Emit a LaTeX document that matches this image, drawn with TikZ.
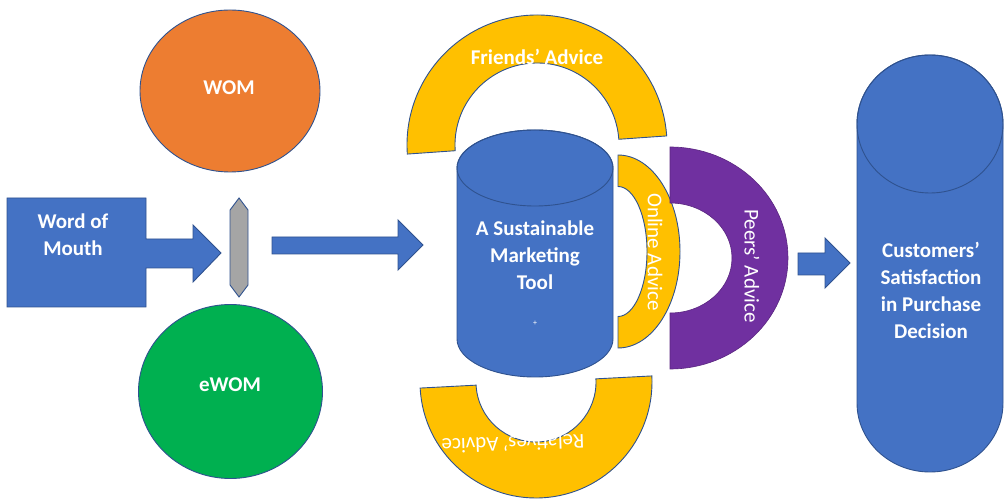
\documentclass[tikz,border=0pt]{standalone}
\usepackage{fontspec}
\setmainfont{Carlito}
\definecolor{cblue}{HTML}{4472C4}
\definecolor{cbord}{HTML}{2F528F}
\definecolor{corange}{HTML}{ED7D31}
\definecolor{cgreen}{HTML}{00B050}
\definecolor{cyellow}{HTML}{FFC000}
\definecolor{cpurple}{HTML}{7030A0}
\definecolor{cgray}{HTML}{A5A5A5}
\begin{document}
\begin{tikzpicture}[x=1pt,y=1pt,
  shp/.style={draw=cbord, line width=0.9pt},
  lbl/.style={text=white, font=\fontsize{21}{27}\selectfont\bfseries, align=center, inner sep=0pt},
  lblr/.style={text=white, font=\fontsize{21}{25}\selectfont, align=center, inner sep=0pt}]
\useasboundingbox (0,0) rectangle (1004,498);

% WOM and eWOM
\filldraw[shp, fill=corange] (230,407) ellipse [x radius=90, y radius=81];
\node[lbl] (wom) at (229,410) {WOM};
\filldraw[shp, fill=cgreen] (230.5,106.5) ellipse [x radius=92, y radius=87];
\node[lbl] (ewom) at (230,113) {eWOM};

% Word of Mouth callout arrow
\filldraw[shp, fill=cblue] (7,300) -- (146,300) -- (146,259) -- (193,259) -- (193,273)
  -- (221,245) -- (193,216) -- (193,230) -- (146,230) -- (146,191) -- (7,191) -- cycle;
\node[lbl] (wm) at (73,263) {Word of\\Mouth};

% gray connector bar
\filldraw[shp, fill=cgray] (239,300) -- (248,288) -- (248,213) -- (239,201) -- (230,213) -- (230,288) -- cycle;

% middle arrow
\filldraw[shp, fill=cblue] (272,261) -- (398,261) -- (398,278) -- (423,253) -- (398,228) -- (398,244) -- (272,244) -- cycle;

% Friends' Advice arc
\filldraw[shp, fill=cyellow] (537,353) ++(4:130) arc[start angle=4, end angle=184, radius=130]
  -- ++(4:48) arc[start angle=184, end angle=4, radius=82] -- cycle;
\node[lbl] (fa) at (537,441) {Friends’ Advice};

% Relatives' Advice arc
\filldraw[shp, fill=cyellow] (536,116) ++(183:116) arc[start angle=183, end angle=363, radius=116]
  -- ++(183:56) arc[start angle=363, end angle=183, radius=60] -- cycle;
\node[lblr, rotate=182] (ra) at (513,54) {Relatives’ Advice};

% central cylinder
\filldraw[shp, fill=cblue] (457,330) -- (457,159) arc[start angle=180, end angle=360, x radius=78, y radius=38]
  -- (613,330) arc[start angle=0, end angle=180, x radius=78, y radius=38] -- cycle;
\draw[shp] (535,330) ellipse [x radius=78, y radius=38];
\node[lbl] (tool) at (535,243) {A Sustainable\\Marketing\\Tool};
\node[text=white, font=\fontsize{8}{8}\selectfont, inner sep=0pt] (plus) at (535,175) {+};

% Online Advice
\filldraw[shp, fill=cyellow] (618,246.5) ++(0,96.5) arc[start angle=90, end angle=-90, x radius=62, y radius=96.5]
  -- ++(0,31.5) arc[start angle=-90, end angle=90, x radius=29, y radius=65] -- cycle;
\node[lblr, rotate=-90] (oa) at (655,246) {Online Advice};

% Peers' Advice
\filldraw[draw=cpurple!80!black, line width=0.6pt, fill=cpurple] (670,240) ++(0,111) arc[start angle=90, end angle=-90, x radius=118, y radius=111]
  -- ++(0,56) arc[start angle=-90, end angle=90, x radius=62, y radius=55] -- cycle;
\node[lblr, rotate=-90] (pa) at (752,232) {Peers’ Advice};

% right arrow
\filldraw[shp, fill=cblue] (798,245) -- (825,245) -- (825,260) -- (850,235) -- (825,210) -- (825,223) -- (798,223) -- cycle;

% customers cylinder
\filldraw[shp, fill=cblue] (857,374) -- (857,95) arc[start angle=180, end angle=360, x radius=73, y radius=69]
  -- (1003,374) arc[start angle=0, end angle=180, x radius=73, y radius=69] -- cycle;
\draw[shp] (930,374) ellipse [x radius=73, y radius=69];
\node[lbl] (cs) at (931,208) {Customers’\\Satisfaction\\in Purchase\\Decision};
\end{tikzpicture}
\end{document}
